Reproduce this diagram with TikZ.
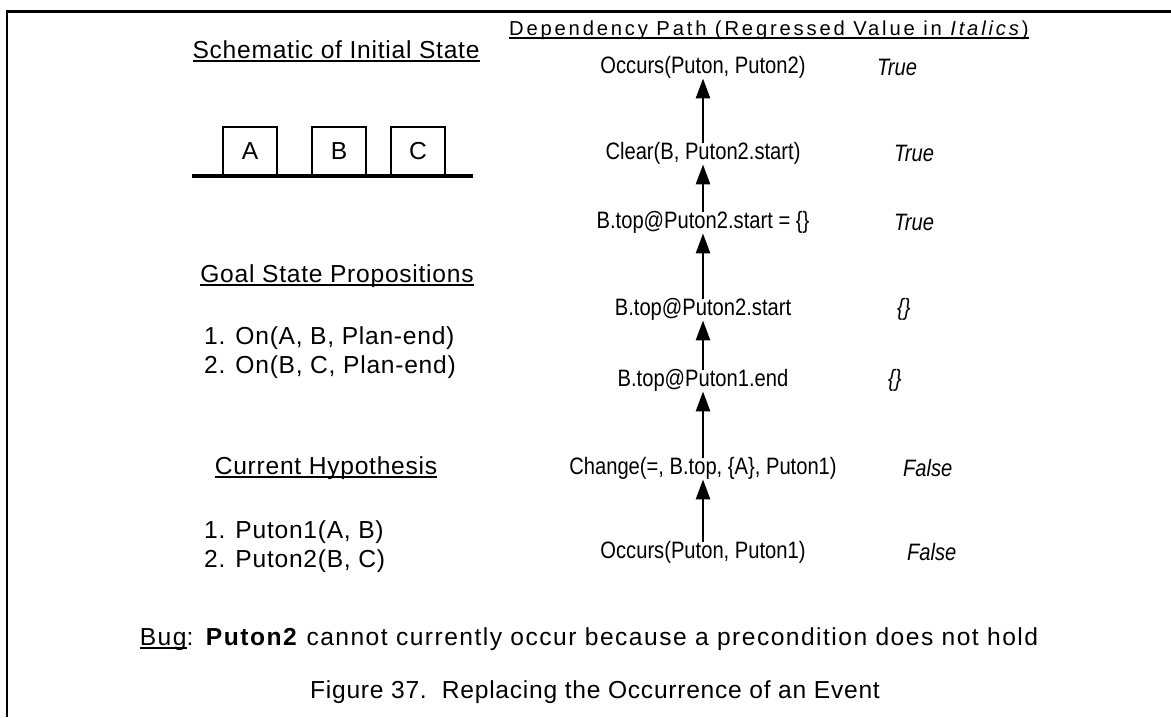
\documentclass[tikz,border=0pt]{standalone}
\usepackage{fontspec}
\setmainfont{Liberation Sans}
\newfontfamily\narrowface[FakeStretch=0.85]{Liberation Sans}
\newfontfamily\wideface[LetterSpace=3]{Liberation Sans}
\newfontfamily\bugface[LetterSpace=6]{Liberation Sans}
\newfontfamily\headface[LetterSpace=14]{Liberation Sans}
\usetikzlibrary{arrows.meta,positioning}
% underline at a fixed depth, through the descenders
\newcommand{\ulbl}[1]{\setbox0\hbox{#1}\rlap{\rule[-2pt]{\wd0}{.8pt}}\box0}

\begin{document}
\begin{tikzpicture}[font=\fontsize{14}{16.5}\wideface,
txt/.style={inner sep=0pt,font=\fontsize{13.5}{16}\narrowface},
lft/.style={inner sep=1pt},
lst/.style={lft,anchor=west,align=left},
val/.style={inner sep=1pt,anchor=west,font=\fontsize{13.5}{16}\narrowface\itshape},
blk/.style={draw,line width=1.3pt,minimum width=1.08cm,minimum height=.98cm,inner sep=0pt},
dep/.style={-{Triangle[length=4mm,width=2.8mm]},line width=1.5pt,shorten <=-1pt}]
\useasboundingbox (0,0) rectangle (23.42,-14.34);
\draw[line width=1.7pt] (23.42,-.23)--(.14,-.23)--(.14,-14.34);
% left column
\node[lft] (schem) at (6.72,-1.02) {\ulbl{Schematic of Initial State}};
\node[blk] (boxA) at (5.00,-3.03) {A};
\node[blk] (boxB) at (6.78,-3.03) {B};
\node[blk] (boxC) at (8.36,-3.03) {C};
\draw[line width=2.2pt] (3.84,-3.52)--(9.46,-3.52);
\node[lft] (goal) at (6.74,-5.52) {\ulbl{Goal State Propositions}};
\node[lst] (goals) at (4.04,-7.06) {1. On(A, B, Plan-end)\\2. On(B, C, Plan-end)};
\node[lft] (hyp) at (6.52,-9.36) {\ulbl{Current Hypothesis}};
\node[lst] (hyps) at (4.04,-10.94) {1. Puton1(A, B)\\2. Puton2(B, C)};
% dependency path
\node[inner sep=1pt,anchor=west,font=\fontsize{11.5}{13.7}\headface] (path) at (10.14,-.6)
 {\ulbl{Dependency Path (Regressed Value in \textit{Italics})}};
\node[txt] (occP2) at (14.06,-1.34) {Occurs(Puton, Puton2)};
\node[txt] (clearB) at (14.06,-3.06) {Clear(B, Puton2.start)};
\node[txt] (topEq) at (14.06,-4.44) {B.top@Puton2.start = \{\}};
\node[txt] (topStart) at (14.06,-6.18) {B.top@Puton2.start};
\node[txt] (topEnd) at (14.06,-7.60) {B.top@Puton1.end};
\node[txt] (chg) at (14.06,-9.36) {Change(=, B.top, \{A\}, Puton1)};
\node[txt] (occP1) at (14.06,-11.04) {Occurs(Puton, Puton1)};
\node[val] (vOccP2) at (17.50,-1.34) {True};
\node[val] (vClearB) at (17.84,-3.06) {True};
\node[val] (vTopEq) at (17.84,-4.44) {True};
\node[val] (vTopStart) at (17.90,-6.18) {\{\}};
\node[val] (vTopEnd) at (17.72,-7.60) {\{\}};
\node[val] (vChg) at (18.02,-9.36) {False};
\node[val] (vOccP1) at (18.10,-11.04) {False};
\draw[dep] (clearB.north)--(occP2.south);
\draw[dep] (topEq.north)--(clearB.south);
\draw[dep] (topStart.north)--(topEq.south);
\draw[dep] (topEnd.north)--(topStart.south);
\draw[dep] (chg.north)--(topEnd.south);
\draw[dep] (occP1.north)--(chg.south);
% bug note and caption
\node[lft,font=\fontsize{14}{16.5}\bugface] (bug) at (11.78,-12.78)
 {\ulbl{Bug}: \textbf{Puton2} cannot currently occur because a precondition does not hold};
\node[lft] (cap) at (11.90,-13.84) {Figure 37.\ \ Replacing the Occurrence of an Event};
\end{tikzpicture}
\end{document}
